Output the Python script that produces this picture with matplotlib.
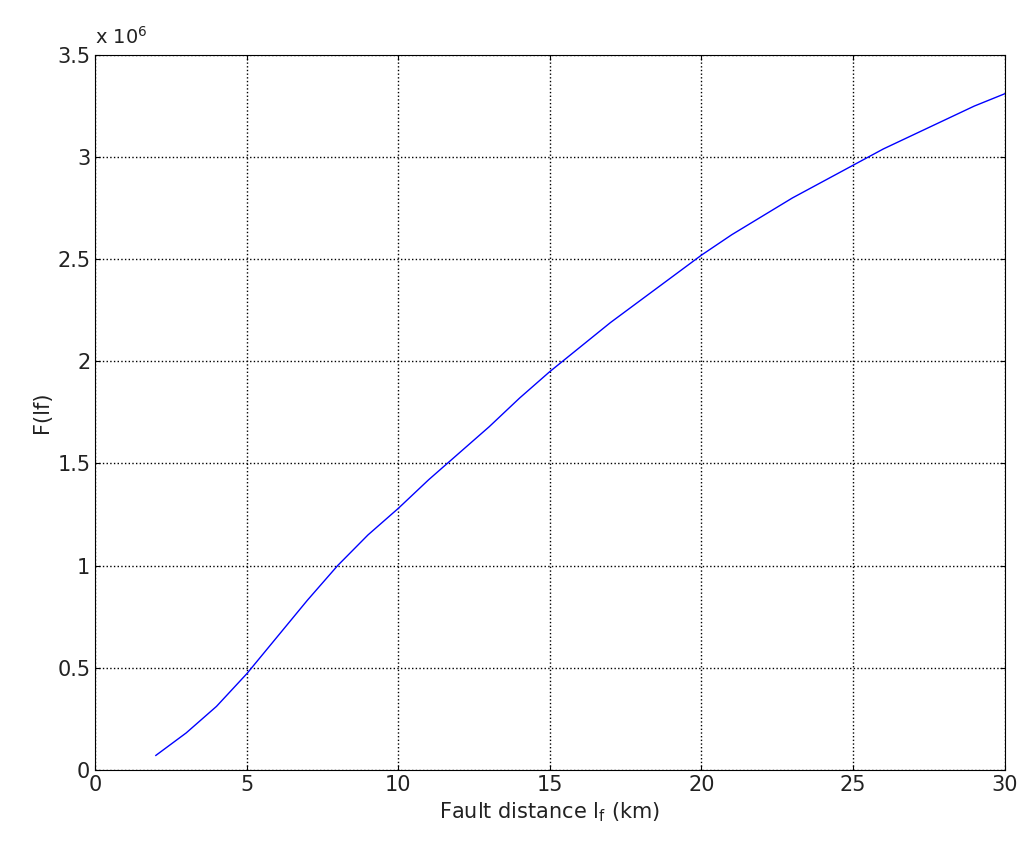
import matplotlib
matplotlib.use("Agg")
import matplotlib.pyplot as plt

# fault distance (km) and F(lf) in units of 1e6
dist_km = [2, 3, 4, 5, 6, 7, 8, 9, 10, 11, 12, 13, 14, 15, 16, 17, 18, 19, 20,
           21, 22, 23, 24, 25, 26, 27, 28, 29, 30]
f_vals = [0.07, 0.18, 0.31, 0.47, 0.65, 0.83, 1.00, 1.15, 1.28, 1.42, 1.55, 1.68,
          1.82, 1.95, 2.07, 2.19, 2.30, 2.41, 2.52, 2.62, 2.71, 2.80, 2.88, 2.96,
          3.04, 3.11, 3.18, 3.25, 3.31]

fig = plt.figure(figsize=(10.24, 8.6), dpi=100)
ax = fig.add_axes([0.093, 0.105, 0.888, 0.831])
ax.plot(dist_km, [v * 1e6 for v in f_vals], color="blue", lw=1)
ax.set_xlim(0, 30)
ax.set_ylim(0, 3.5e6)
ax.set_xticks(range(0, 31, 5))
ax.set_yticks([i * 0.5e6 for i in range(8)])
ax.set_yticklabels(["0", "0.5", "1", "1.5", "2", "2.5", "3", "3.5"])
ax.text(0, 1.01, r"x 10$^6$", transform=ax.transAxes, fontsize=14, va="bottom", color="#222222")
ax.grid(True, color="black", ls=":", lw=1)
ax.tick_params(labelsize=15, direction="in", top=True, right=True, labelcolor="#222222")
ax.set_xlabel(r"Fault distance l$_\mathrm{f}$ (km)", fontsize=15, color="#222222")
ax.set_ylabel("F(lf)", fontsize=15, color="#222222")
fig.savefig("out.png", dpi=100)
